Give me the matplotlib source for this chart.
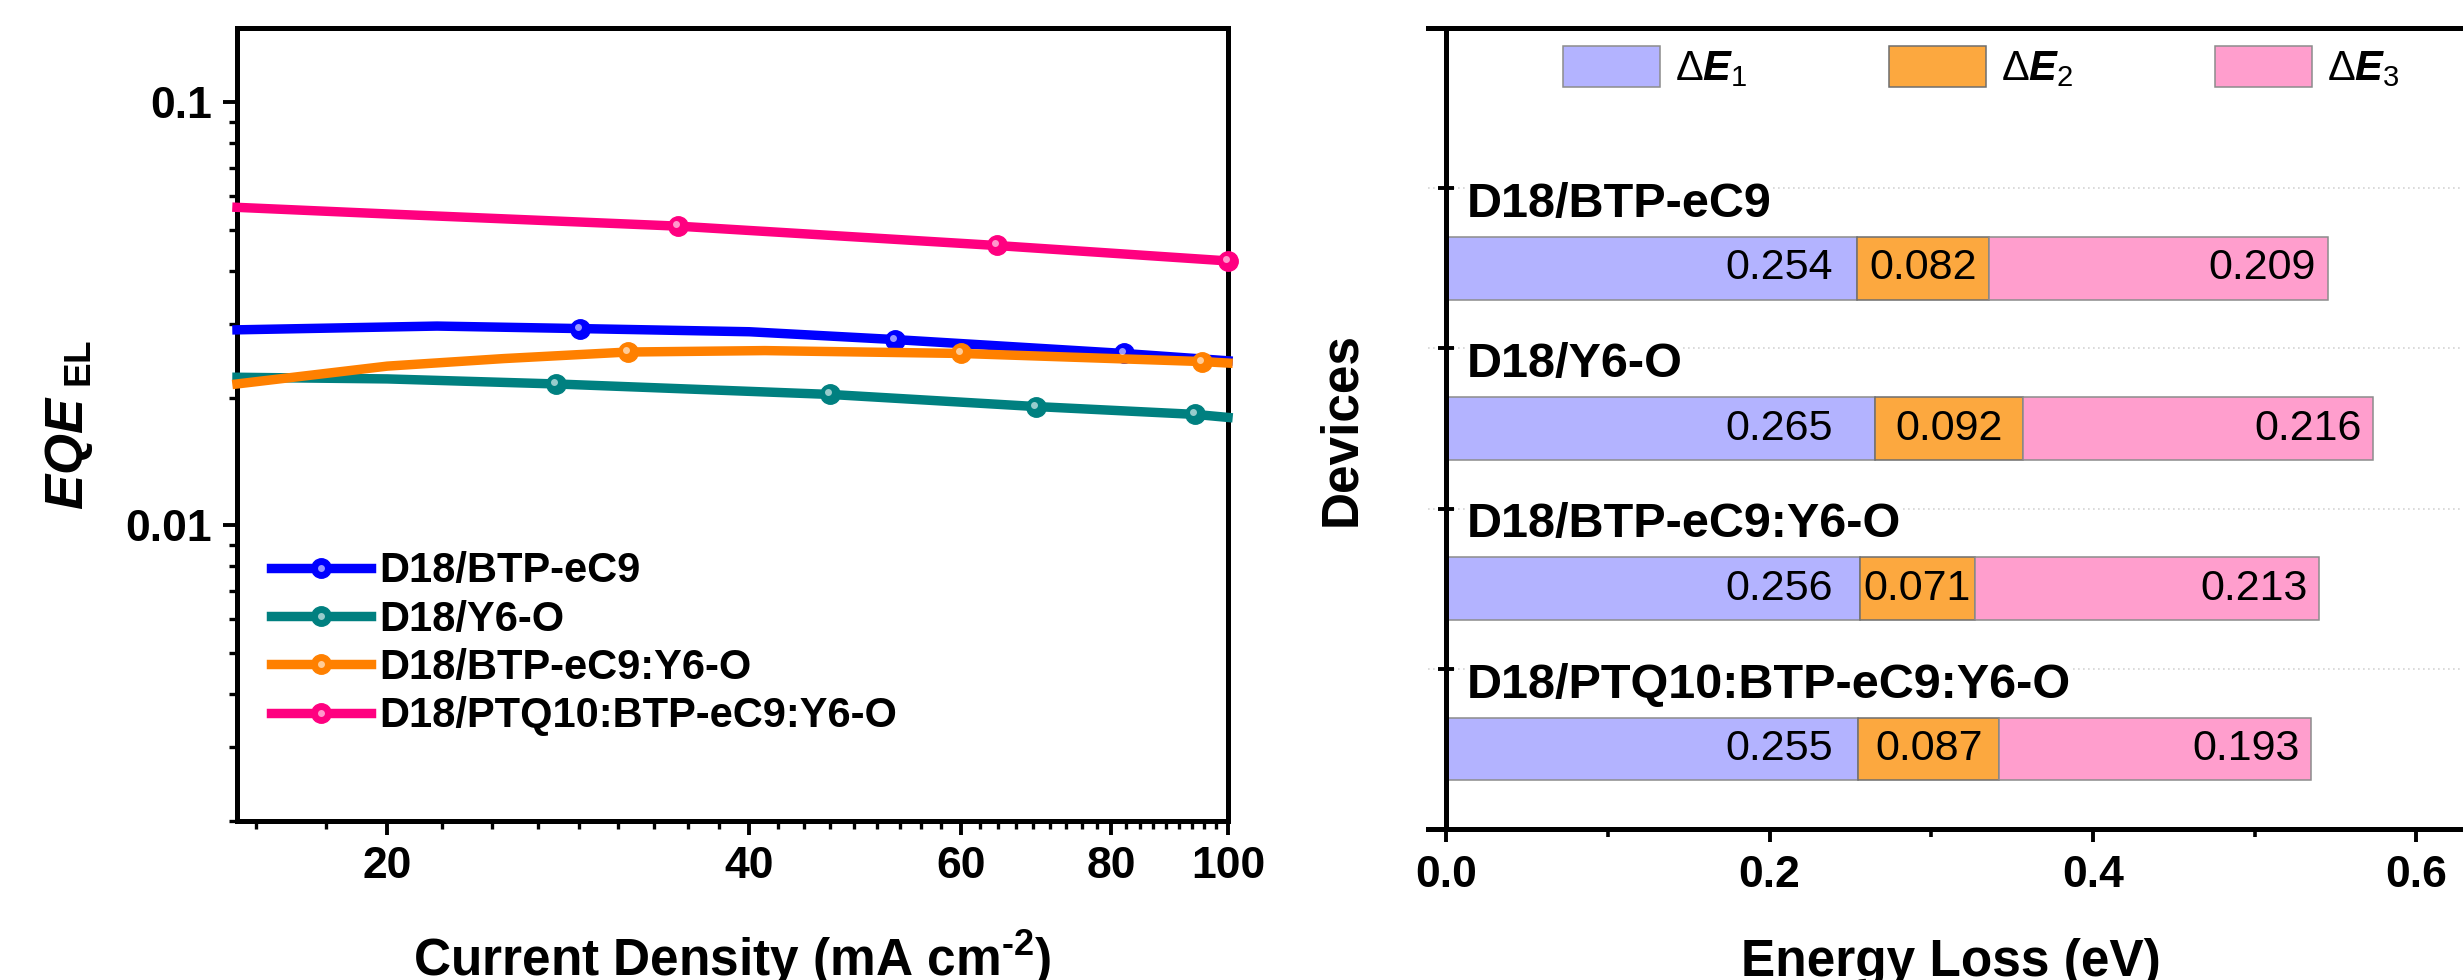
import numpy as np
import matplotlib
matplotlib.use('Agg')
import matplotlib.pyplot as plt
from matplotlib.ticker import FixedLocator, FixedFormatter, NullFormatter
from matplotlib import transforms

plt.rcParams['font.family'] = 'Liberation Sans'
plt.rcParams['mathtext.fontset'] = 'custom'
plt.rcParams['mathtext.rm'] = 'Liberation Sans:bold'
plt.rcParams['mathtext.it'] = 'Liberation Sans:italic:bold'
plt.rcParams['mathtext.bf'] = 'Liberation Sans:bold'
plt.rcParams['mathtext.sf'] = 'Liberation Sans'

# ---- dados do painel esquerdo (EQE_EL vs densidade de corrente) ----
labels_eqe = ['D18/BTP-eC9', 'D18/Y6-O', 'D18/BTP-eC9:Y6-O', 'D18/PTQ10:BTP-eC9:Y6-O']
colors_eqe = ['#0000FF', '#008080', '#FF8000', '#FF0080']

x_bc9 = [15, 22, 28.9, 40, 52.9, 81.9, 100]
y_bc9 = [0.0290, 0.0296, 0.0292, 0.0287, 0.0275, 0.0255, 0.0245]
mk_bc9 = [2, 4, 5]

x_y6o = [15, 20, 27.6, 46.7, 69.2, 93.9, 100]
y_y6o = [0.0224, 0.0222, 0.0216, 0.0204, 0.0191, 0.0183, 0.0180]
mk_y6o = [2, 3, 4, 5]

x_tern = [15, 20, 25, 31.7, 41.2, 60, 95.2, 100]
y_tern = [0.0216, 0.0238, 0.0248, 0.0257, 0.0259, 0.0255, 0.0244, 0.0242]
mk_tern = [3, 5, 6]

x_quat = [15, 20, 34.9, 64.2, 100]
y_quat = [0.0565, 0.0545, 0.0510, 0.0459, 0.0422]
mk_quat = [2, 3, 4]

series = [(x_bc9, y_bc9, mk_bc9), (x_y6o, y_y6o, mk_y6o),
          (x_tern, y_tern, mk_tern), (x_quat, y_quat, mk_quat)]

# ---- dados do painel direito (perdas de energia) ----
devices = ['D18/BTP-eC9', 'D18/Y6-O', 'D18/BTP-eC9:Y6-O', 'D18/PTQ10:BTP-eC9:Y6-O']
dE1 = [0.254, 0.265, 0.256, 0.255]
dE2 = [0.082, 0.092, 0.071, 0.087]
dE3 = [0.209, 0.216, 0.213, 0.193]
loss_labels = [r'$\mathsf{\Delta}\mathit{E}_{\mathsf{1}}$',
               r'$\mathsf{\Delta}\mathit{E}_{\mathsf{2}}$',
               r'$\mathsf{\Delta}\mathit{E}_{\mathsf{3}}$']
colors_loss = ['#B3B3FF', '#FCA83F', '#FF9ECD']

W, H = 2463, 980
fig = plt.figure(figsize=(W / 100, H / 100), dpi=100)

# ================= painel esquerdo =================
ax = fig.add_axes([237 / W, 1 - 821 / H, (1228 - 237) / W, (821 - 28) / H])
ax.set_xscale('log')
ax.set_yscale('log')

handles = []
for (xs, ys, mk), c, lab in zip(series, colors_eqe, labels_eqe):
    ln, = ax.plot(xs, ys, '-', color=c, lw=6.8, marker='o', ms=14,
                  markevery=mk, mfc=c, mec=c, label=lab, clip_on=False, zorder=3)
    hl_tr = transforms.offset_copy(ax.transData, fig=fig, x=-2, y=2, units='dots')
    hl, = ax.plot([xs[i] for i in mk], [ys[i] for i in mk], 'o', ms=5,
                  color='white', alpha=0.6, mec='none', transform=hl_tr,
                  clip_on=False, zorder=4)
    handles.append((ln, hl))

ax.set_xlim(15, 100)
ax.set_ylim(0.002, 0.15)

ax.xaxis.set_major_locator(FixedLocator([20, 40, 60, 80, 100]))
ax.xaxis.set_major_formatter(FixedFormatter(['20', '40', '60', '80', '100']))
minor_x = [v for v in np.arange(0, 100.01, 20 / 9)
           if v >= 15 and abs(v / 20 - round(v / 20)) > 1e-6]
ax.xaxis.set_minor_locator(FixedLocator(minor_x))
ax.xaxis.set_minor_formatter(NullFormatter())

ax.yaxis.set_major_locator(FixedLocator([0.01, 0.1]))
ax.yaxis.set_major_formatter(FixedFormatter(['0.01', '0.1']))
ax.yaxis.set_minor_locator(FixedLocator([k * 0.001 for k in range(2, 10)] +
                                        [k * 0.01 for k in range(2, 10)]))
ax.yaxis.set_minor_formatter(NullFormatter())

for sp in ax.spines.values():
    sp.set_linewidth(3.6)
ax.tick_params(which='major', direction='out', length=10, width=2.8,
               labelsize=32, pad=8)
ax.tick_params(which='minor', direction='out', length=5.5, width=2.4)
for t in ax.get_xticklabels() + ax.get_yticklabels():
    t.set_fontweight('bold')

ax.set_xlabel(r'Current Density (mA cm$^{\text{-2}}$)', fontsize=37,
              fontweight='bold', labelpad=30)
ax.set_ylabel(r'$\mathit{EQE}_{\mathrm{\ EL}}$', fontsize=38, labelpad=22)

ax.legend(handles, labels_eqe, loc='upper left', bbox_to_anchor=(0.034, 0.34),
          frameon=False, numpoints=1, handlelength=2.4, handletextpad=0.2,
          labelspacing=0.2, borderpad=0, borderaxespad=0,
          prop={'weight': 'bold', 'size': 30})

# ================= painel direito =================
px_per_ev = 1617.5
x0 = -0.011
x1 = 0.635
left_px = 1446 + x0 * px_per_ev
bx = fig.add_axes([left_px / W, 1 - 829 / H, (x1 - x0) * px_per_ev / W, (829 - 28) / H])

ypos = np.arange(len(devices)) + 1.5
left2 = np.array(dE1)
left3 = left2 + np.array(dE2)
bar_h = 0.39
bx.barh(ypos, dE1, height=bar_h, color=colors_loss[0], edgecolor='#8C8C8C', lw=1.1,
        label=loss_labels[0], zorder=2)
bx.barh(ypos, dE2, left=left2, height=bar_h, color=colors_loss[1], edgecolor='#6E6E6E',
        lw=1.1, label=loss_labels[1], zorder=2)
bx.barh(ypos, dE3, left=left3, height=bar_h, color=colors_loss[2], edgecolor='#8C8C8C',
        lw=1.1, label=loss_labels[2], zorder=2)

# rótulos dos valores
e1_label_x = 0.239
for i, y in enumerate(ypos):
    bx.text(e1_label_x, y, f'{dE1[i]:.3f}', ha='right', va='center', fontsize=31, zorder=5)
    bx.text(left2[i] + dE2[i] / 2, y, f'{dE2[i]:.3f}', ha='center', va='center',
            fontsize=31, zorder=5)
    bx.text(left3[i] + dE3[i] - 0.007, y, f'{dE3[i]:.3f}', ha='right', va='center',
            fontsize=31, zorder=5)

# nomes dos dispositivos acima das barras
for i, name in enumerate(devices):
    bx.text(0.013, i + 1.18, name, ha='left', va='baseline', fontsize=35,
            fontweight='bold', zorder=5,
            bbox=dict(facecolor='white', edgecolor='none', pad=0))

bx.set_xlim(x0, x1)
bx.set_ylim(5, 0)
bx.spines['left'].set_position(('data', 0))
bx.spines['right'].set_visible(False)
for sp in ['left', 'top', 'bottom']:
    bx.spines[sp].set_linewidth(3.6)

bx.xaxis.set_major_locator(FixedLocator([0.0, 0.2, 0.4, 0.6]))
bx.xaxis.set_major_formatter(FixedFormatter(['0.0', '0.2', '0.4', '0.6']))
bx.xaxis.set_minor_locator(FixedLocator([0.1, 0.3, 0.5]))
bx.yaxis.set_major_locator(FixedLocator([1, 2, 3, 4]))
bx.yaxis.set_major_formatter(NullFormatter())
bx.tick_params(axis='x', which='major', direction='out', length=9, width=2.8,
               labelsize=32, pad=10)
bx.tick_params(axis='x', which='minor', direction='out', length=6, width=2.6)
bx.tick_params(axis='y', which='major', direction='inout', length=12, width=2.8)
for t in bx.get_xticklabels():
    t.set_fontweight('bold')

bx.grid(axis='y', which='major', color='#D4D4D4', linestyle=(0, (1, 2)), lw=1.2, zorder=0)
bx.set_axisbelow(True)

bx.set_xlabel('Energy Loss (eV)', fontsize=37, fontweight='bold', labelpad=30)
bx.set_ylabel('Devices', fontsize=37, fontweight='bold', labelpad=48)

bx.legend(loc='upper left', bbox_to_anchor=((1563 - left_px) / ((x1 - x0) * px_per_ev), 0.978),
          ncol=3, frameon=False, fontsize=30, handlelength=2.33, handleheight=1.15,
          handletextpad=0.36, columnspacing=3.4, borderpad=0, borderaxespad=0)

fig.savefig('out.png', dpi=100)
